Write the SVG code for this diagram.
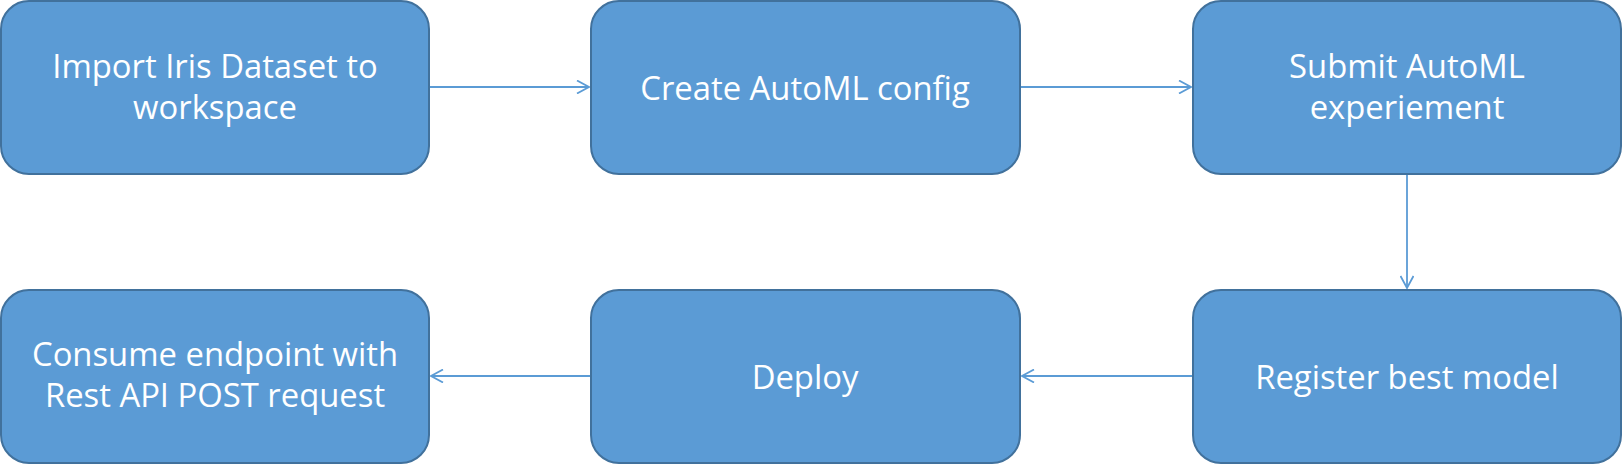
<svg xmlns="http://www.w3.org/2000/svg" width="1623" height="465" viewBox="0 0 1623 465">
<defs>
<style>
.box{fill:#5B9BD5;stroke:#41719C;stroke-width:2}
.lbl{fill:#FFFFFF;font-family:"Open Sans","Liberation Sans",sans-serif;font-size:32.8px;text-anchor:middle}
.con{stroke:#5B9BD5;stroke-width:1.8;fill:none}
</style>
<marker id="arr" viewBox="0 0 14 14" refX="13" refY="7" markerWidth="14" markerHeight="14" markerUnits="userSpaceOnUse" orient="auto">
<path d="M1,0.5 L13,7 L1,13.5" fill="none" stroke="#5B9BD5" stroke-width="1.8"/>
</marker>
</defs>
<rect width="1623" height="465" fill="#FFFFFF"/>
<g id="connectors">
<line class="con" x1="430" y1="87" x2="589" y2="87" marker-end="url(#arr)"/>
<line class="con" x1="1021" y1="87" x2="1191" y2="87" marker-end="url(#arr)"/>
<line class="con" x1="1407" y1="175" x2="1407" y2="288" marker-end="url(#arr)"/>
<line class="con" x1="1192" y1="376" x2="1022" y2="376" marker-end="url(#arr)"/>
<line class="con" x1="590" y1="376" x2="431" y2="376" marker-end="url(#arr)"/>
</g>
<g id="node1">
<rect class="box" x="1" y="1" width="428" height="173" rx="28" ry="28"/>
<text class="lbl" x="215" y="78">Import Iris Dataset to</text>
<text class="lbl" x="215" y="119">workspace</text>
</g>
<g id="node2">
<rect class="box" x="591" y="1" width="429" height="173" rx="28" ry="28"/>
<text class="lbl" x="805" y="100">Create AutoML config</text>
</g>
<g id="node3">
<rect class="box" x="1193" y="1" width="428" height="173" rx="28" ry="28"/>
<text class="lbl" x="1407" y="78">Submit AutoML</text>
<text class="lbl" x="1407" y="119">experiement</text>
</g>
<g id="node4">
<rect class="box" x="1" y="290" width="428" height="173" rx="28" ry="28"/>
<text class="lbl" x="215" y="366">Consume endpoint with</text>
<text class="lbl" x="215" y="407">Rest API POST request</text>
</g>
<g id="node5">
<rect class="box" x="591" y="290" width="429" height="173" rx="28" ry="28"/>
<text class="lbl" x="805" y="389">Deploy</text>
</g>
<g id="node6">
<rect class="box" x="1193" y="290" width="428" height="173" rx="28" ry="28"/>
<text class="lbl" x="1407" y="389">Register best model</text>
</g>
</svg>
